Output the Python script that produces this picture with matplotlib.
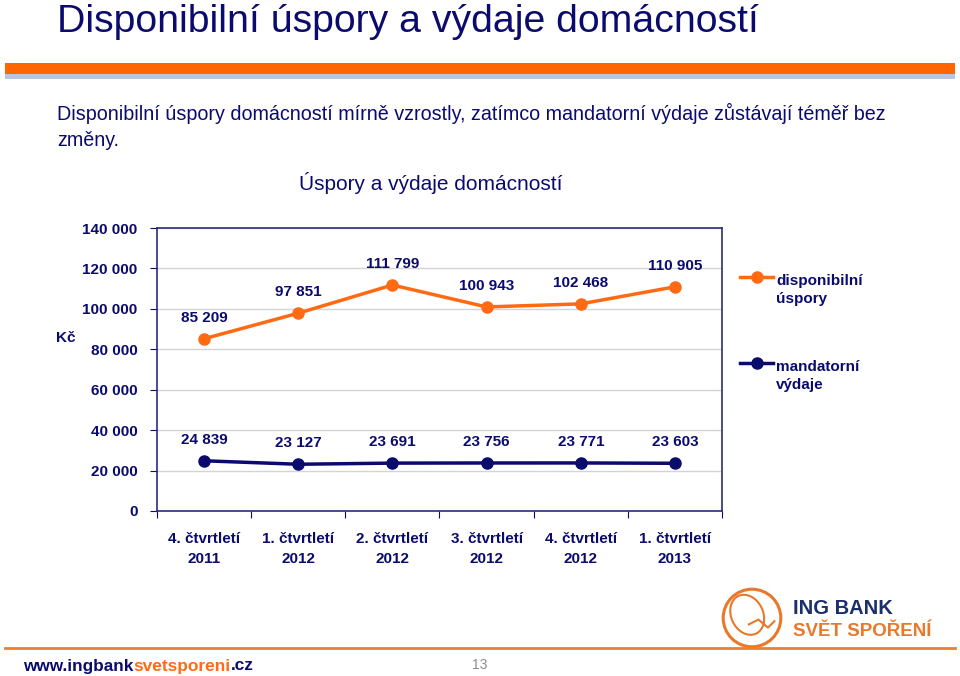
import numpy as np
import matplotlib
matplotlib.use("Agg")
import matplotlib.pyplot as plt
from matplotlib.patches import Rectangle, Circle, Ellipse
from matplotlib.ticker import FuncFormatter

plt.rcParams['font.family'] = ['Liberation Sans', 'DejaVu Sans']

NAVY = '#0B0B6E'
ORANGE = '#FF6A13'

categories = ['4. čtvrtletí\n2011', '1. čtvrtletí\n2012', '2. čtvrtletí\n2012',
              '3. čtvrtletí\n2012', '4. čtvrtletí\n2012', '1. čtvrtletí\n2013']
uspory = [85209, 97851, 111799, 100943, 102468, 110905]
vydaje = [24839, 23127, 23691, 23756, 23771, 23603]
series_names = ['disponibilní\núspory', 'mandatorní\nvýdaje']
y_ticks = [0, 20000, 40000, 60000, 80000, 100000, 120000, 140000]


def fy(px):
    return 1 - px / 676


fig = plt.figure(figsize=(9.6, 6.76), dpi=100)

# header
fig.text(57 / 960, fy(22), 'Disponibilní úspory a výdaje domácností', fontsize=28.3,
         color=NAVY, va='center', ha='left')
fig.patches.append(Rectangle((5 / 960, fy(74)), 950 / 960, 11 / 676,
                             transform=fig.transFigure, color='#FF6600', lw=0))
fig.patches.append(Rectangle((5 / 960, fy(79)), 950 / 960, 5 / 676,
                             transform=fig.transFigure, color='#B9C4DD', lw=0))
fig.text(57 / 960, fy(113),
         'Disponibilní úspory domácností mírně vzrostly, zatímco mandatorní výdaje zůstávají téměř bez',
         fontsize=14.2, color=NAVY, va='center', ha='left')
fig.text(57 / 960, fy(140), 'změny.', fontsize=14.2, color=NAVY, va='center', ha='left')
fig.text(431 / 960, fy(183), 'Úspory a výdaje domácností', fontsize=15,
         color=NAVY, va='center', ha='center')

# chart
ax = fig.add_axes([157 / 960, fy(511), 565 / 960, 283 / 676])
x = np.arange(len(categories))
ax.plot(x, uspory, color=ORANGE, lw=2.5, marker='o', ms=8, zorder=3)
ax.plot(x, vydaje, color=NAVY, lw=2.5, marker='o', ms=8, zorder=3)
for series in (uspory, vydaje):
    for xi, v in zip(x, series):
        ax.annotate(f'{v:,}'.replace(',', ' '), (xi, v), xytext=(0, 10), textcoords='offset points',
                    ha='center', va='bottom', fontsize=11, fontweight='bold', color=NAVY)

ax.set_xlim(-0.5, len(categories) - 0.5)
ax.set_ylim(0, 140000)
ax.set_yticks(y_ticks)
ax.yaxis.set_major_formatter(FuncFormatter(lambda v, p: f'{int(v):,}'.replace(',', ' ')))
ax.set_xticks(np.arange(len(categories) + 1) - 0.5)
ax.set_xticklabels([])
ax.set_xticks(x, minor=True)
ax.set_xticklabels(categories, minor=True)
ax.tick_params(axis='x', which='minor', length=0, pad=15)
ax.tick_params(axis='x', which='major', length=5, color=NAVY, direction='out')
ax.tick_params(axis='y', length=5, color=NAVY, pad=9)
for lab in ax.get_xticklabels(minor=True):
    lab.set_linespacing(1.55)
for lab in ax.get_xticklabels(minor=True) + ax.get_yticklabels():
    lab.set_fontsize(11)
    lab.set_fontweight('bold')
    lab.set_color(NAVY)
ax.grid(axis='y', color='#D4D4D4', lw=1)
ax.set_axisbelow(True)
for s in ax.spines.values():
    s.set_color('#2B2B7A')
    s.set_linewidth(1.2)
fig.text(66 / 960, fy(338), 'Kč', fontsize=11, fontweight='bold', color=NAVY, va='center', ha='center')

# legend (handle aligned with first text line, as in the original)
for name, col, ypx in [(series_names[0], ORANGE, 277), (series_names[1], NAVY, 363)]:
    fig.add_artist(plt.Line2D([740 / 960, 773 / 960], [fy(ypx), fy(ypx)], color=col, lw=2.5,
                              transform=fig.transFigure))
    fig.add_artist(plt.Line2D([756.5 / 960], [fy(ypx)], color=col, marker='o', ms=8,
                              transform=fig.transFigure))
    fig.text(776 / 960, fy(ypx - 3), name, fontsize=11, fontweight='bold', color=NAVY,
             va='top', ha='left', linespacing=1.4)

# footer
fig.add_artist(plt.Line2D([5 / 960, 955 / 960], [fy(648), fy(648)],
                          color='#F07D2B', lw=2, transform=fig.transFigure))
fig.canvas.draw()
r = fig.canvas.get_renderer()
xpos = 23 / 960
for piece, c in [('www.ingbank', NAVY), ('svetsporeni', ORANGE), ('.cz', NAVY)]:
    t = fig.text(xpos, fy(666), piece, fontsize=12.4, fontweight='bold', color=c,
                 va='center', ha='left')
    bb = t.get_window_extent(renderer=r)
    xpos += bb.width / 960
fig.text(480 / 960, fy(665), '13', fontsize=10, color='#8C8C8C', va='center', ha='center')

logo = fig.add_axes([720 / 960, fy(650), 64 / 960, 64 / 676])
logo.set_xlim(-1, 1)
logo.set_ylim(-1, 1)
logo.axis('off')
logo.add_patch(Circle((0, 0), 0.9, fill=False, ec='#E8782A', lw=2.2))
logo.add_patch(Ellipse((-0.15, 0.1), 1.0, 1.3, angle=25, fill=False, ec='#E8782A', lw=1.5))
logo.plot([-0.1, 0.2, 0.5, 0.7], [-0.2, -0.05, -0.3, -0.1], color='#E8782A', lw=1.5)
fig.text(793 / 960, fy(609), 'ING BANK', fontsize=14.5, fontweight='bold', color='#1B2F6B',
         va='center', ha='left')
fig.text(793 / 960, fy(631), 'SVĚT SPOŘENÍ', fontsize=13.5, fontweight='bold', color='#E8782A',
         va='center', ha='left')

fig.savefig('out.png', dpi=100)
